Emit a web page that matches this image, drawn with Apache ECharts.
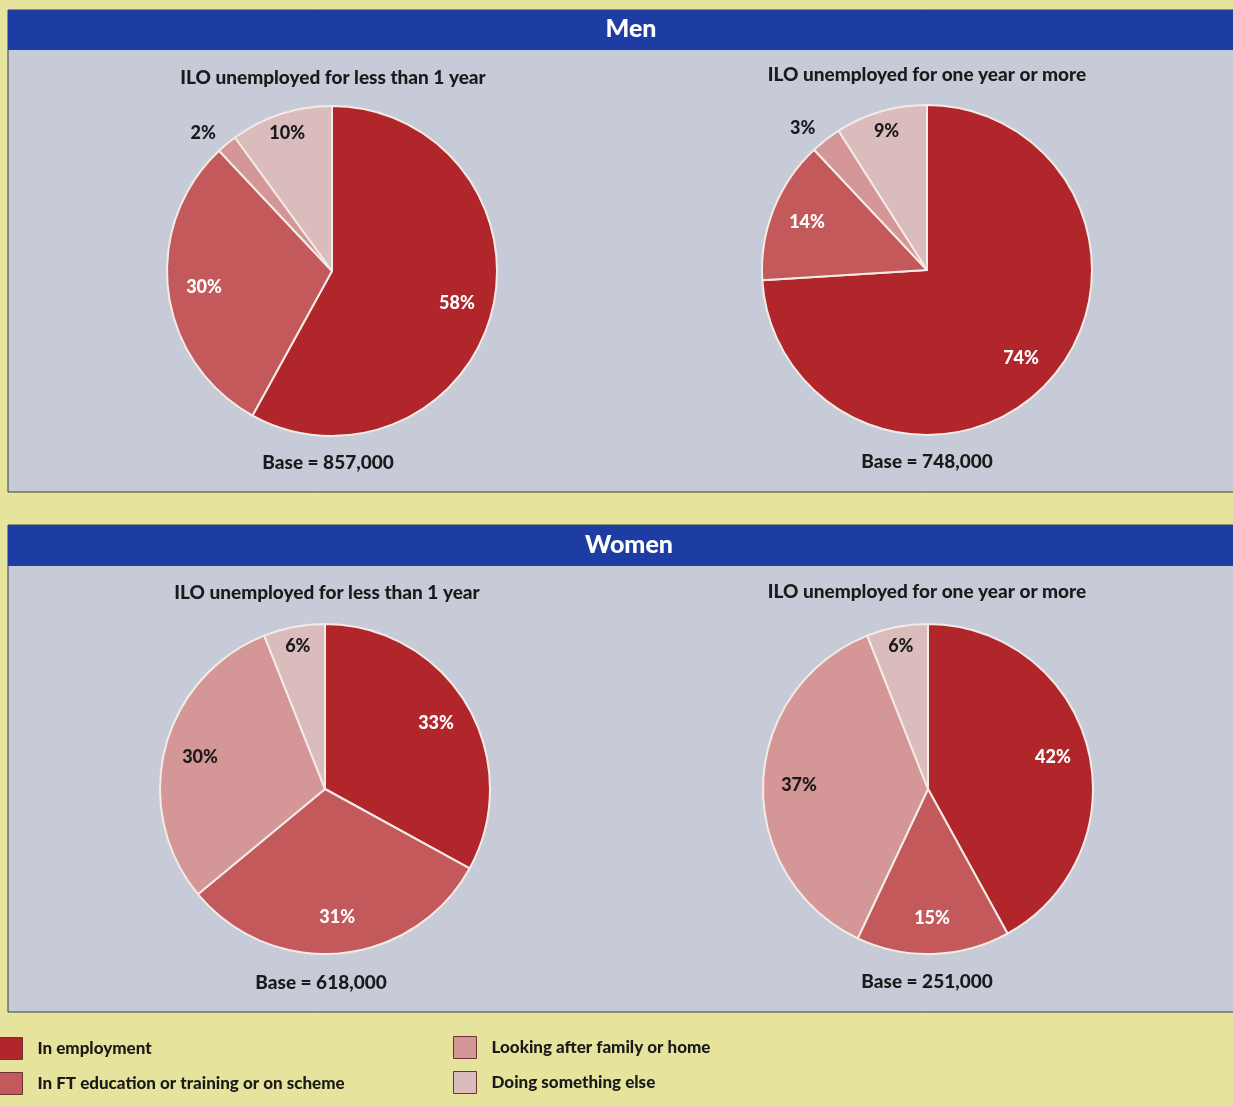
<!DOCTYPE html>
<html>
<head>
<meta charset="utf-8">
<script src="https://cdn.jsdelivr.net/npm/echarts@6/dist/echarts.min.js"></script>
<style>
html,body{margin:0;padding:0;background:#e6e49c;}
#chart{width:1233px;height:1106px;}
</style>
</head>
<body>
<div id="chart"></div>
<script>
const categories = ['In employment', 'In FT education or training or on scheme', 'Looking after family or home', 'Doing something else'];
const menShort = [58, 30, 2, 10];
const menLong = [74, 14, 3, 9];
const womenShort = [33, 31, 30, 6];
const womenLong = [42, 15, 37, 6];
const panelTitles = ['Men', 'Women'];
const pieTitles = ['ILO unemployed for less than 1 year', 'ILO unemployed for one year or more'];
const bases = ['Base = 857,000', 'Base = 748,000', 'Base = 618,000', 'Base = 251,000'];

const colors = ['#b1262b', '#c4595b', '#d49696', '#dbbcbc'];
const labelColors = ['#ffffff', '#ffffff', '#1a1a1a', '#1a1a1a'];
const FONT = 'Lato, "Open Sans", sans-serif';
const R = 165;

const pies = [
  { values: menShort, center: [332, 271], outsideIdx: [2] },
  { values: menLong, center: [927, 270], outsideIdx: [2] },
  { values: womenShort, center: [325, 789], outsideIdx: [] },
  { values: womenLong, center: [928, 789], outsideIdx: [] }
];

const LABEL_FONT = { fontFamily: FONT, fontWeight: 900, fontSize: 18 };

const series = [];
pies.forEach((p, pi) => {
  series.push({
    type: 'pie', center: p.center, radius: [0, R], startAngle: 90, clockwise: true,
    avoidLabelOverlap: false, silent: true, z: 2,
    label: { show: false }, labelLine: { show: false },
    itemStyle: { borderColor: '#f3ebe6', borderWidth: 2 },
    emphasis: { disabled: true },
    data: p.values.map((v, i) => ({ name: categories[i], value: v, itemStyle: { color: colors[i] } }))
  });
  series.push({
    type: 'pie', center: p.center, radius: [87, R], startAngle: 90, clockwise: true,
    avoidLabelOverlap: false, silent: true, z: 3,
    itemStyle: { color: 'rgba(0,0,0,0)', borderWidth: 0 },
    emphasis: { disabled: true },
    labelLine: { show: false },
    data: p.values.map((v, i) => {
      const out = p.outsideIdx.indexOf(i) >= 0;
      return {
        name: categories[i], value: v,
        itemStyle: { color: 'rgba(0,0,0,0)' },
        label: Object.assign({
          show: i < 3,
          position: out ? 'outside' : 'inside',
          formatter: '{c}%',
          color: out ? '#1a1a1a' : labelColors[i],
          distanceToLabelLine: 2
        }, LABEL_FONT),
        labelLine: { show: false, length: 14, length2: 0 }
      };
    })
  });
  series.push({
    type: 'pie', center: p.center, radius: [119, R], startAngle: 90, clockwise: true,
    avoidLabelOverlap: false, silent: true, z: 3,
    itemStyle: { color: 'rgba(0,0,0,0)', borderWidth: 0 },
    emphasis: { disabled: true },
    labelLine: { show: false },
    data: p.values.map((v, i) => ({
      name: categories[i], value: v,
      itemStyle: { color: 'rgba(0,0,0,0)' },
      label: Object.assign({
        show: i === 3, position: 'inside', formatter: '{c}%', color: labelColors[i]
      }, LABEL_FONT)
    }))
  });
});

function txt(text, x, y, size, color) {
  return { type: 'text', x: x, y: y, z: 10,
    style: { text: text, fill: color, font: '900 ' + size + 'px ' + FONT,
      textAlign: 'center', textVerticalAlign: 'middle', align: 'center', verticalAlign: 'middle' } };
}

const graphics = [
  { type: 'rect', z: 0, shape: { x: 8, y: 10, width: 1230, height: 482 }, style: { fill: '#c6cbd7', stroke: '#3c3c3c', lineWidth: 1 } },
  { type: 'rect', z: 0, shape: { x: 8, y: 10, width: 1230, height: 40 }, style: { fill: '#1d3da5' } },
  { type: 'rect', z: 0, shape: { x: 8, y: 525, width: 1230, height: 487 }, style: { fill: '#c6cbd7', stroke: '#3c3c3c', lineWidth: 1 } },
  { type: 'rect', z: 0, shape: { x: 8, y: 525, width: 1230, height: 41 }, style: { fill: '#1d3da5' } },
  txt(panelTitles[0], 631, 29, 25, '#ffffff'),
  txt(panelTitles[1], 629, 545, 25, '#ffffff'),
  txt(pieTitles[0], 333, 78, 19, '#1a1a1a'),
  txt(pieTitles[1], 927, 75, 19, '#1a1a1a'),
  txt(pieTitles[0], 327, 593, 19, '#1a1a1a'),
  txt(pieTitles[1], 927, 592, 19, '#1a1a1a'),
  txt(bases[0], 328, 463, 19, '#1a1a1a'),
  txt(bases[1], 927, 462, 19, '#1a1a1a'),
  txt(bases[2], 321, 983, 19, '#1a1a1a'),
  txt(bases[3], 927, 982, 19, '#1a1a1a')
];

const legendCommon = {
  orient: 'vertical', icon: 'rect', itemWidth: 23, itemHeight: 22, itemGap: 12,
  selectedMode: false, padding: 0,
  itemStyle: { borderColor: '#6b3535', borderWidth: 1 },
  textStyle: { fontFamily: FONT, fontWeight: 900, fontSize: 17, color: '#1a1a1a', padding: [0, 0, 0, 10] }
};

const chart = echarts.init(document.getElementById('chart'), null, { renderer: 'canvas' });
chart.setOption({
  backgroundColor: '#e6e49c',
  animation: false,
  graphic: { elements: graphics },
  legend: [
    Object.assign({ left: -1, top: 1037, data: [categories[0], categories[1]] }, legendCommon),
    Object.assign({ left: 453, top: 1036, data: [categories[2], categories[3]] }, legendCommon)
  ],
  series: series
});
</script>
</body>
</html>
